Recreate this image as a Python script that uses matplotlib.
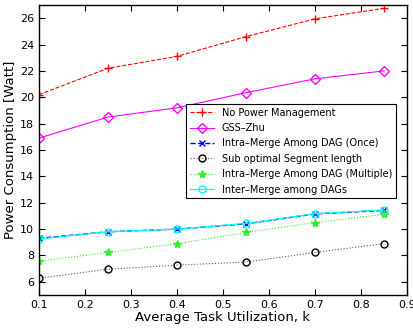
import matplotlib
matplotlib.use("Agg")
import matplotlib.pyplot as plt

k = [0.1, 0.25, 0.4, 0.55, 0.7, 0.85]

no_pm = [20.2, 22.2, 23.1, 24.6, 25.95, 26.75]
gss_zhu = [16.9, 18.5, 19.2, 20.35, 21.4, 22.0]
intra_once = [9.3, 9.8, 10.0, 10.4, 11.15, 11.42]
sub_opt = [6.28, 6.96, 7.27, 7.5, 8.23, 8.9]
intra_multi = [7.57, 8.23, 8.89, 9.75, 10.5, 11.12]
inter_merge = [9.25, 9.8, 10.0, 10.43, 11.17, 11.45]

fig = plt.figure(figsize=(4.14, 3.33), dpi=100)
ax = fig.add_axes([0.094, 0.114, 0.889, 0.871])

ax.plot(k, no_pm, 'r--', marker='+', ms=6, lw=0.8, label='No Power Management')
ax.plot(k, gss_zhu, '-', color='magenta', marker='D', ms=5, mfc='none', lw=0.8,
        label='GSS\u2013Zhu')
ax.plot(k, intra_once, 'b--', marker='x', ms=4, lw=1.0,
        label='Intra\u2013Merge Among DAG (Once)')
ax.plot(k, sub_opt, ':', color='0.35', marker='o', ms=5, mfc='none', mec='k', lw=0.8,
        label='Sub optimal Segment length')
ax.plot(k, intra_multi, ':', color='#33ee33', marker='*', ms=6, lw=0.8,
        label='Intra\u2013Merge Among DAG (Multiple)')
ax.plot(k, inter_merge, '-', color='cyan', marker='o', ms=5, mfc='none', lw=0.9,
        label='Inter\u2013Merge among DAGs')

ax.set_xlim(0.1, 0.9)
ax.set_ylim(5, 27)
ax.set_xticks([0.1, 0.2, 0.3, 0.4, 0.5, 0.6, 0.7, 0.8, 0.9])
ax.set_yticks(range(6, 27, 2))
ax.tick_params(direction='in', top=True, right=True, labelsize=8, length=4)
for s in ax.spines.values():
    s.set_linewidth(1.0)

ax.set_xlabel('Average Task Utilization, k', fontsize=9.5, labelpad=1)
ax.set_ylabel('Power Consumption [Watt]', fontsize=9.5, labelpad=2)

leg = ax.legend(loc='upper left', bbox_to_anchor=(0.399, 0.659), fontsize=7,
                frameon=True, fancybox=False, edgecolor='k', framealpha=1,
                handlelength=2.5, labelspacing=0.55, borderaxespad=0)
leg.get_frame().set_linewidth(0.8)

fig.savefig('out.png', dpi=100)
